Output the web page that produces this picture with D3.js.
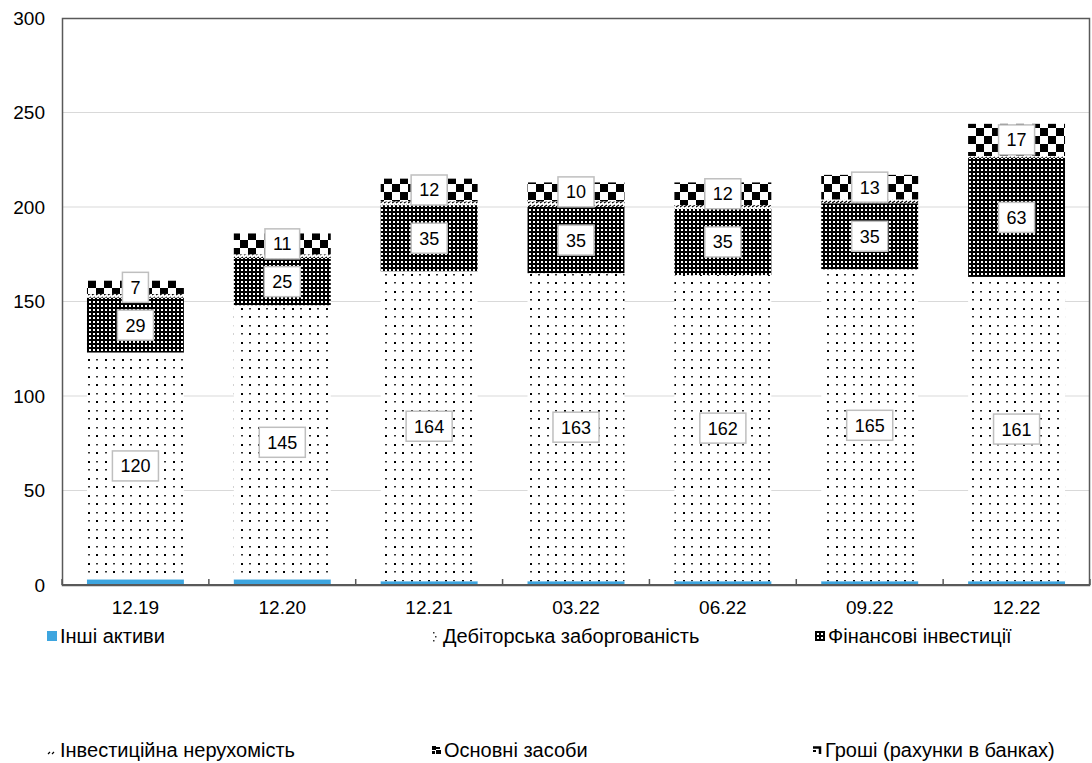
<!DOCTYPE html>
<html>
<head>
<meta charset="utf-8">
<script src="https://cdn.jsdelivr.net/npm/d3@7"></script>
<style>
  html, body { margin: 0; padding: 0; background: #fff; }
  svg { display: block; font-family: Arial, "Liberation Sans", sans-serif; }
</style>
</head>
<body>
<svg id="chart" width="1092" height="763"></svg>
<script>
// Asset structure by reporting date
const categories = ["12.19", "12.20", "12.21", "03.22", "06.22", "09.22", "12.22"];
const otherAssets      = [3, 3, 2, 2, 2, 2, 2];
const receivables      = [120, 145, 164, 163, 162, 165, 161];
const finInvestments   = [29, 25, 35, 35, 35, 35, 63];
const investProperty   = [2, 2, 2, 3, 2, 2, 1];
const fixedAssets      = [7, 11, 12, 10, 12, 13, 17];
const cash             = [0, 0, 0, 0, 0, 0, 0];
const yTicks = [0, 50, 100, 150, 200, 250, 300];

const seriesNames = [
  "Інші активи",
  "Дебіторська заборгованість",
  "Фінансові інвестиції",
  "Інвестиційна нерухомість",
  "Основні засоби",
  "Гроші (рахунки в банках)"
];
const seriesValues = [otherAssets, receivables, finInvestments, investProperty, fixedAssets, cash];
const labelled = [false, true, true, false, true, false];
const fills = ["#3DA5DF", "url(#pDots)", "url(#pDense)", "url(#pZig)", "url(#pCheck)", "url(#pCash)"];

const svg = d3.select("#chart");
const plot = { left: 62, right: 1090, top: 18, bottom: 585 };

// Fill patterns
const defs = svg.append("defs");
const pDots = defs.append("pattern").attr("id", "pDots").attr("patternUnits", "userSpaceOnUse")
  .attr("width", 17).attr("height", 17);
pDots.append("rect").attr("width", 17).attr("height", 17).attr("fill", "#fff");
pDots.append("rect").attr("x", 3).attr("y", 2).attr("width", 2).attr("height", 2).attr("fill", "#000");
pDots.append("rect").attr("x", 11).attr("y", 10).attr("width", 2).attr("height", 2).attr("fill", "#000");
pDots.append("rect").attr("x", 11).attr("y", 2).attr("width", 2).attr("height", 1.5).attr("fill", "#333");
pDots.append("rect").attr("x", 3).attr("y", 10).attr("width", 2).attr("height", 1.5).attr("fill", "#333");

const pDense = defs.append("pattern").attr("id", "pDense").attr("patternUnits", "userSpaceOnUse")
  .attr("width", 4).attr("height", 4);
pDense.append("rect").attr("width", 4).attr("height", 4).attr("fill", "#000");
pDense.append("rect").attr("x", 1).attr("y", 1).attr("width", 2).attr("height", 2).attr("fill", "#fff");

const pZig = defs.append("pattern").attr("id", "pZig").attr("patternUnits", "userSpaceOnUse")
  .attr("width", 8).attr("height", 4);
pZig.append("rect").attr("width", 8).attr("height", 4).attr("fill", "#fff");
pZig.append("path").attr("d", "M0,3 L3,1 M4,3 L7,1").attr("stroke", "#000").attr("stroke-width", 1.2);

const pCheck = defs.append("pattern").attr("id", "pCheck").attr("patternUnits", "userSpaceOnUse")
  .attr("width", 16).attr("height", 16);
pCheck.append("rect").attr("width", 16).attr("height", 16).attr("fill", "#fff");
pCheck.append("rect").attr("x", 0).attr("y", 0).attr("width", 8).attr("height", 8).attr("fill", "#000");
pCheck.append("rect").attr("x", 8).attr("y", 8).attr("width", 8).attr("height", 8).attr("fill", "#000");

const pCash = defs.append("pattern").attr("id", "pCash").attr("patternUnits", "userSpaceOnUse")
  .attr("width", 8).attr("height", 8);
pCash.append("rect").attr("width", 8).attr("height", 8).attr("fill", "#000");
pCash.append("path").attr("d", "M0,2 H5 V8").attr("stroke", "#fff").attr("stroke-width", 1.5).attr("fill", "none");

// Legend swatch patterns (anchored to each swatch)
const legendIcons = {
  "pZigIcon": g => {
    g.append("rect").attr("width", 10).attr("height", 10).attr("fill", "#fff");
    g.append("path").attr("d", "M1,9 L3,7 M5,9 L7,7").attr("stroke", "#000").attr("stroke-width", 1.2);
  },
  "pCheckIcon": g => {
    g.append("rect").attr("width", 10).attr("height", 10).attr("fill", "#fff");
    g.append("rect").attr("x", 1).attr("y", 1).attr("width", 4).attr("height", 4).attr("fill", "#000");
    g.append("rect").attr("x", 5).attr("y", 5).attr("width", 5).attr("height", 4).attr("fill", "#000");
    g.append("rect").attr("x", 5).attr("y", 2).attr("width", 4).attr("height", 2).attr("fill", "#000");
    g.append("rect").attr("x", 1).attr("y", 6).attr("width", 3).attr("height", 3).attr("fill", "#000");
  },
  "pCashIcon": g => {
    g.append("rect").attr("width", 10).attr("height", 10).attr("fill", "#fff");
    g.append("path").attr("d", "M1,2.5 H8 V9").attr("stroke", "#000").attr("stroke-width", 2.5).attr("fill", "none");
    g.append("rect").attr("x", 1).attr("y", 5).attr("width", 3).attr("height", 2).attr("fill", "#000");
  }
};

// Scales
const x = d3.scaleBand().domain(categories).range([plot.left, plot.right])
  .paddingInner(0.34).paddingOuter(0.17);
const y = d3.scaleLinear().domain([0, 300]).range([plot.bottom, plot.top]);

// Gridlines
svg.append("g").selectAll("line").data(yTicks.filter(t => t > 0 && t < 300)).join("line")
  .attr("x1", plot.left).attr("x2", plot.right)
  .attr("y1", d => y(d)).attr("y2", d => y(d))
  .attr("stroke", "#d9d9d9").attr("stroke-width", 1);

// Plot frame
svg.append("rect").attr("x", plot.left + 0.5).attr("y", plot.top + 0.5)
  .attr("width", plot.right - plot.left - 1).attr("height", plot.bottom - plot.top)
  .attr("fill", "none").attr("stroke", "#595959").attr("stroke-width", 1.5);

// Stacked bars
const rows = categories.map((c, i) => {
  const r = { cat: c };
  seriesNames.forEach((n, k) => { r[n] = seriesValues[k][i]; });
  return r;
});
const stacked = d3.stack().keys(seriesNames)(rows);

const barG = svg.append("g");
stacked.forEach((layer, k) => {
  barG.append("g").selectAll("rect").data(layer).join("rect")
    .attr("x", d => x(d.data.cat))
    .attr("width", x.bandwidth())
    .attr("y", d => y(d[1]))
    .attr("height", d => Math.max(0, y(d[0]) - y(d[1])))
    .attr("fill", fills[k]);
});

// X axis line and category separators
svg.append("line").attr("x1", plot.left).attr("x2", plot.right)
  .attr("y1", plot.bottom).attr("y2", plot.bottom)
  .attr("stroke", "#595959").attr("stroke-width", 2);
svg.append("g").selectAll("line").data(d3.range(categories.length + 1)).join("line")
  .attr("x1", i => plot.left + i * x.step()).attr("x2", i => plot.left + i * x.step())
  .attr("y1", plot.bottom - 6).attr("y2", plot.bottom)
  .attr("stroke", "#595959").attr("stroke-width", 1.5);

// Value labels
const labelG = svg.append("g");
stacked.forEach((layer, k) => {
  if (!labelled[k]) return;
  layer.forEach(d => {
    const cx = x(d.data.cat) + x.bandwidth() / 2;
    const cy = (y(d[0]) + y(d[1])) / 2;
    const g = labelG.append("g");
    const t = g.append("text").attr("x", cx).attr("y", cy + 6.5)
      .attr("text-anchor", "middle").attr("font-size", 18).attr("fill", "#000")
      .text(d.data[seriesNames[k]]);
    const w = t.node().getComputedTextLength();
    g.insert("rect", "text")
      .attr("x", cx - w / 2 - 8).attr("y", cy - 15)
      .attr("width", w + 16).attr("height", 30)
      .attr("fill", "#fff").attr("stroke", "#bfbfbf").attr("stroke-width", 1.5);
  });
});

// Y axis labels
svg.append("g").selectAll("text").data(yTicks).join("text")
  .attr("x", 45).attr("y", d => y(d) + 6.5)
  .attr("text-anchor", "end").attr("font-size", 19).attr("fill", "#000")
  .text(d => d);

// X axis labels
svg.append("g").selectAll("text").data(categories).join("text")
  .attr("x", d => x(d) + x.bandwidth() / 2).attr("y", 614)
  .attr("text-anchor", "middle").attr("font-size", 19).attr("fill", "#000")
  .text(d => d);

// Legend
const legendPos = [
  { x: 47, y: 636 }, { x: 430, y: 636 }, { x: 815, y: 636 },
  { x: 47, y: 750 }, { x: 431, y: 750 }, { x: 812, y: 750 }
];
const iconKind = [null, null, null, "pZigIcon", "pCheckIcon", "pCashIcon"];
const legend = svg.append("g");
seriesNames.forEach((n, k) => {
  const p = legendPos[k];
  if (iconKind[k]) {
    const g = legend.append("g").attr("transform", `translate(${p.x},${p.y - 5})`);
    legendIcons[iconKind[k]](g);
  } else if (k === 1) {
    legend.append("rect").attr("x", p.x + 3).attr("y", p.y - 4).attr("width", 1.5).attr("height", 1.5).attr("fill", "#333");
    legend.append("rect").attr("x", p.x + 5).attr("y", p.y).attr("width", 1.5).attr("height", 1.5).attr("fill", "#333");
    legend.append("rect").attr("x", p.x + 3).attr("y", p.y + 4).attr("width", 1.5).attr("height", 1.5).attr("fill", "#333");
  } else {
    legend.append("rect").attr("x", p.x).attr("y", p.y - 5).attr("width", 10).attr("height", 10)
      .attr("fill", fills[k]);
  }
  legend.append("text").attr("x", p.x + 13).attr("y", p.y + 7)
    .attr("font-size", 20).attr("fill", "#000").text(n);
});
</script>
</body>
</html>
